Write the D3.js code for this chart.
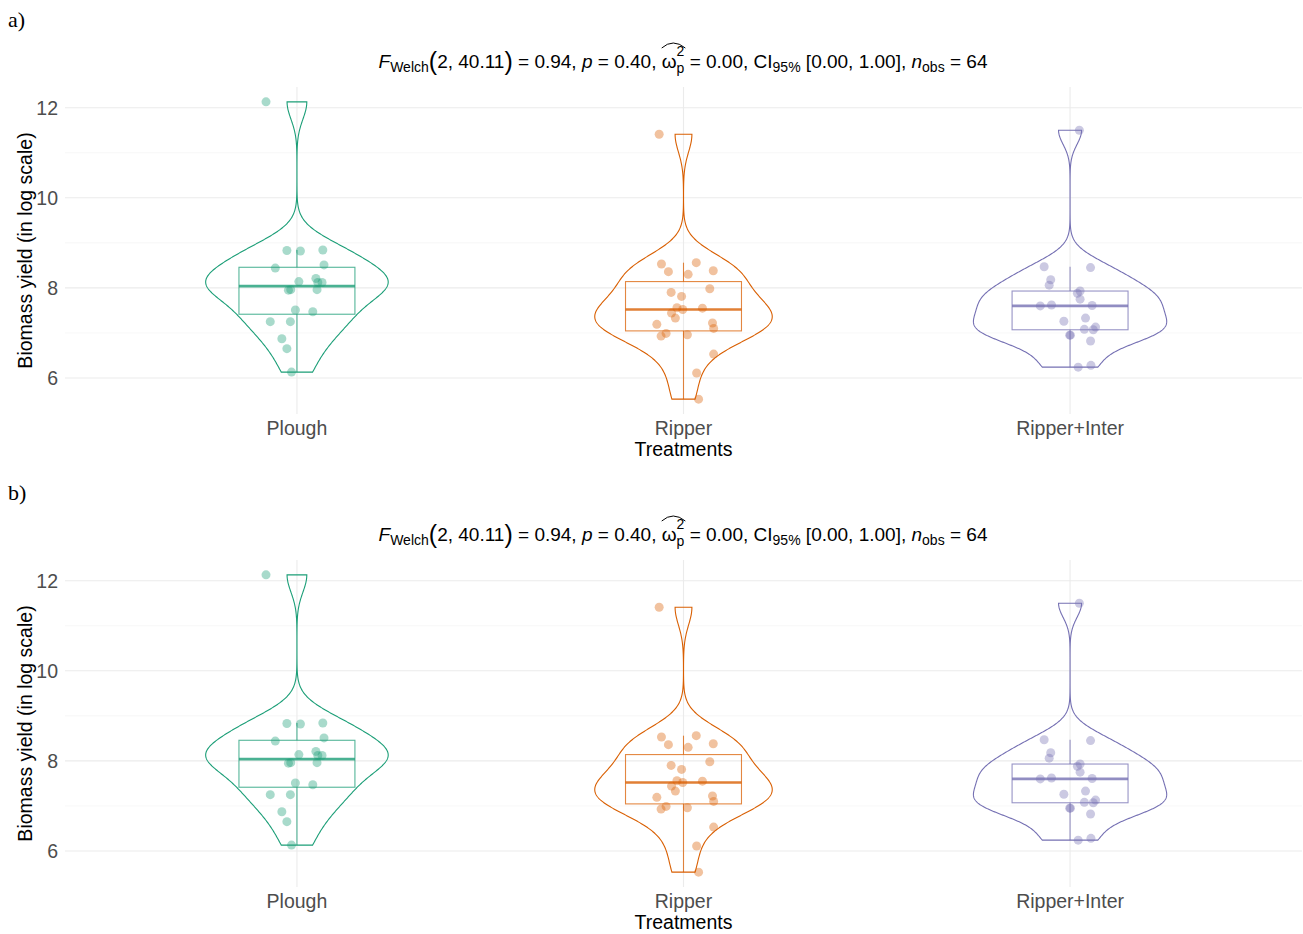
<!DOCTYPE html>
<html><head><meta charset="utf-8">
<script src="https://cdn.jsdelivr.net/npm/d3@7"></script>
<style>body{margin:0;background:#fff}text{font-family:"Liberation Sans",Arial,sans-serif}</style>
</head><body><svg id="c" width="1303" height="934"></svg>
<script>
const categories = ["Plough", "Ripper", "Ripper+Inter"];
const groupColors = ["#1B9E77", "#D95F02", "#7570B3"];
const ploughValues = [12.13, 8.83, 8.82, 8.84, 8.51, 8.44, 8.14, 8.21, 8.12, 8.12, 7.95, 7.96, 7.96, 7.51, 7.47, 7.25, 7.25, 6.87, 6.65, 6.13];
const ploughJitter = [-0.080, -0.026, 0.009, 0.067, 0.070, -0.056, 0.005, 0.049, 0.054, 0.065, -0.022, -0.016, 0.052, -0.004, 0.041, -0.069, -0.017, -0.039, -0.026, -0.014];
const ripperValues = [11.41, 8.53, 8.56, 8.36, 8.30, 8.38, 7.90, 7.81, 7.98, 7.56, 7.52, 7.55, 7.44, 7.33, 7.19, 7.22, 7.10, 6.99, 6.93, 6.96, 6.53, 6.11, 5.53];
const ripperJitter = [-0.063, -0.057, 0.033, -0.039, 0.012, 0.077, -0.032, -0.005, 0.068, -0.017, -0.002, 0.049, -0.031, -0.021, -0.069, 0.075, 0.078, -0.045, -0.058, 0.010, 0.078, 0.034, 0.039];
const interValues = [11.50, 8.47, 8.45, 8.18, 8.06, 7.93, 7.88, 7.75, 7.60, 7.62, 7.61, 7.26, 7.33, 7.08, 7.07, 7.13, 6.95, 6.95, 6.82, 6.24, 6.28];
const interJitter = [0.024, -0.067, 0.053, -0.050, -0.054, 0.026, 0.019, 0.026, -0.077, -0.048, 0.057, -0.016, 0.040, 0.037, 0.060, 0.066, 0.001, -0.001, 0.053, 0.021, 0.054];
const yMajorTicks = [6, 8, 10, 12];
const yMinorTicks = [7, 9, 11];
const panelLabels = ["a)", "b)"];
const yAxisTitle = "Biomass yield (in log scale)";
const xAxisTitle = "Treatments";

const groups = [
  {name: categories[0], values: ploughValues, jitter: ploughJitter, color: groupColors[0]},
  {name: categories[1], values: ripperValues, jitter: ripperJitter, color: groupColors[1]},
  {name: categories[2], values: interValues, jitter: interJitter, color: groupColors[2]}
];

const svg = d3.select("#c");
const allVals = groups.flatMap(g => g.values);
const [vmin, vmax] = d3.extent(allVals);
const pad = 0.05 * (vmax - vmin);

function q7(sorted, p) { return d3.quantileSorted(sorted, p); }
function nrd0(v) {
  const s = d3.deviation(v);
  const sorted = v.slice().sort(d3.ascending);
  const iqr = q7(sorted, 0.75) - q7(sorted, 0.25);
  const lo = Math.min(s, iqr / 1.34);
  return 0.9 * lo * Math.pow(v.length, -0.2);
}
groups.forEach(g => {
  const sorted = g.values.slice().sort(d3.ascending);
  g.q1 = q7(sorted, 0.25); g.med = q7(sorted, 0.5); g.q3 = q7(sorted, 0.75);
  const iqr = g.q3 - g.q1;
  g.wLo = d3.min(sorted.filter(v => v >= g.q1 - 1.5 * iqr));
  g.wHi = d3.max(sorted.filter(v => v <= g.q3 + 1.5 * iqr));
  const bw = nrd0(g.values);
  const [a, b] = d3.extent(g.values);
  g.dens = d3.range(512).map(i => {
    const x = a + (b - a) * i / 511;
    const d = d3.mean(g.values, xi => Math.exp(-0.5 * ((x - xi) / bw) ** 2)) / (bw * Math.sqrt(2 * Math.PI));
    return [x, d];
  });
});
const maxDens = d3.max(groups, g => d3.max(g.dens, d => d[1]));

function drawPanel(oy, label) {
  const g = svg.append("g").attr("transform", `translate(0,${oy})`);
  const x = d3.scaleLinear().domain([0.4, 3.6]).range([65, 1302]);
  const y = d3.scaleLinear().domain([vmin - pad, vmax + pad]).range([414, 87]);

  g.append("text").attr("x", 8).attr("y", 27).text(label)
    .style("font-family", "'Liberation Serif','Times New Roman',serif").style("font-size", "22px").attr("fill", "#000");

  g.selectAll(".ymin").data(yMinorTicks).join("line")
    .attr("x1", 65).attr("x2", 1302).attr("y1", d => y(d)).attr("y2", d => y(d))
    .attr("stroke", "#F2F2F2").attr("stroke-width", 0.6);
  g.selectAll(".ymaj").data(yMajorTicks).join("line")
    .attr("x1", 65).attr("x2", 1302).attr("y1", d => y(d)).attr("y2", d => y(d))
    .attr("stroke", "#EBEBEB").attr("stroke-width", 1.1);
  g.selectAll(".xmaj").data(groups).join("line")
    .attr("x1", (d, i) => x(i + 1)).attr("x2", (d, i) => x(i + 1)).attr("y1", 87).attr("y2", 414)
    .attr("stroke", "#EBEBEB").attr("stroke-width", 1.1);

  g.selectAll(".ytl").data(yMajorTicks).join("text")
    .attr("x", 58).attr("y", d => y(d)).attr("dy", "0.36em").attr("text-anchor", "end")
    .attr("fill", "#4D4D4D").style("font-size", "19.5px").text(d => d);
  g.selectAll(".xtl").data(groups).join("text")
    .attr("x", (d, i) => x(i + 1)).attr("y", 435).attr("text-anchor", "middle")
    .attr("fill", "#4D4D4D").style("font-size", "19.5px").text(d => d.name);
  g.append("text").attr("x", x(2)).attr("y", 456).attr("text-anchor", "middle")
    .attr("fill", "#000").style("font-size", "19.5px").text(xAxisTitle);
  g.append("text").attr("transform", `translate(32,${(87 + 414) / 2}) rotate(-90)`)
    .attr("text-anchor", "middle").attr("fill", "#000").style("font-size", "19.5px").text(yAxisTitle);

  const unit = x(1) - x(0);
  groups.forEach((grp, i) => {
    const cx = x(i + 1);
    const gg = g.append("g");
    const hw = d => d / maxDens * 0.25 * unit;
    const right = grp.dens.map(d => [cx + hw(d[1]), y(d[0])]);
    const left = grp.dens.slice().reverse().map(d => [cx - hw(d[1]), y(d[0])]);
    gg.append("path").attr("d", d3.line()(right.concat(left)) + "Z")
      .attr("fill", "none").attr("stroke", grp.color).attr("stroke-width", 1.1);
    const bw = 0.15 * unit;
    gg.append("line").attr("x1", cx).attr("x2", cx).attr("y1", y(grp.q3)).attr("y2", y(grp.wHi))
      .attr("stroke", grp.color).attr("stroke-opacity", 0.75).attr("stroke-width", 1.1);
    gg.append("line").attr("x1", cx).attr("x2", cx).attr("y1", y(grp.q1)).attr("y2", y(grp.wLo))
      .attr("stroke", grp.color).attr("stroke-opacity", 0.75).attr("stroke-width", 1.1);
    gg.append("rect").attr("x", cx - bw).attr("width", 2 * bw).attr("y", y(grp.q3)).attr("height", y(grp.q1) - y(grp.q3))
      .attr("fill", "none").attr("stroke", grp.color).attr("stroke-opacity", 0.75).attr("stroke-width", 1.1);
    gg.append("line").attr("x1", cx - bw).attr("x2", cx + bw).attr("y1", y(grp.med)).attr("y2", y(grp.med))
      .attr("stroke", grp.color).attr("stroke-opacity", 0.8).attr("stroke-width", 2.6);
    gg.selectAll("circle").data(grp.values).join("circle")
      .attr("cx", (v, j) => x(i + 1 + grp.jitter[j])).attr("cy", v => y(v)).attr("r", 4.5)
      .attr("fill", grp.color).attr("fill-opacity", 0.38);
  });

  const tg = g.append("g");
  const base = 68;
  let cur = 0;
  const F = 19, S = 14;
  function seg(t, opt = {}) {
    const el = tg.append("text").attr("x", cur).attr("y", base + (opt.dy || 0))
      .attr("xml:space", "preserve").style("white-space", "pre")
      .style("font-size", (opt.size || F) + "px").style("font-style", opt.italic ? "italic" : "normal")
      .attr("fill", "#000").text(t);
    const w = el.node().getComputedTextLength();
    if (!opt.noAdvance) cur += w;
    return {el, w};
  }
  seg("F", {italic: true});
  seg("Welch", {size: S, dy: 4});
  seg("(", {size: 25, dy: 2});
  seg("2, 40.11");
  seg(")", {size: 25, dy: 2});
  seg(" = 0.94, ");
  seg("p", {italic: true});
  seg(" = 0.40, ");
  const om = seg("ω");
  const omX = cur - om.w;
  const sup = seg("2", {size: S, dy: -12, noAdvance: true});
  const sub = seg("p", {size: S, dy: 5, noAdvance: true});
  cur += Math.max(sup.w, sub.w);
  tg.append("path").attr("d", `M${omX},${base - 20} Q${(omX + cur) / 2},${base - 30} ${cur + 1},${base - 20}`)
    .attr("fill", "none").attr("stroke", "#000").attr("stroke-width", 1);
  seg(" = 0.00, CI");
  seg("95%", {size: S, dy: 4});
  seg(" [0.00, 1.00], ");
  seg("n", {italic: true});
  seg("obs", {size: S, dy: 4});
  seg(" = 64");
  tg.attr("transform", `translate(${683 - cur / 2},0)`);
}

drawPanel(0, panelLabels[0]);
drawPanel(473, panelLabels[1]);
</script></body></html>
